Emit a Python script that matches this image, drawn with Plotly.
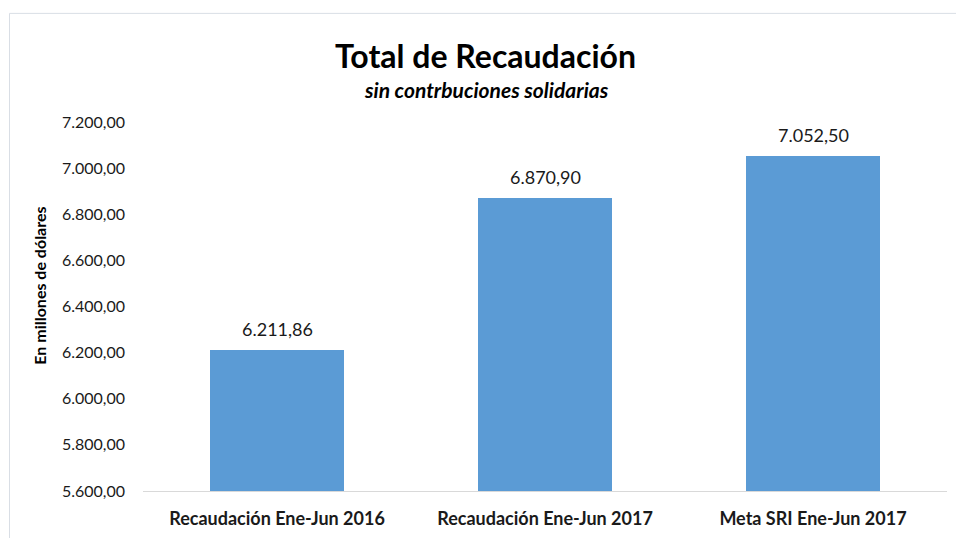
import plotly.graph_objects as go

categories = ["Recaudación Ene-Jun 2016", "Recaudación Ene-Jun 2017", "Meta SRI Ene-Jun 2017"]
values = [6211.86, 6870.90, 7052.50]
y_ticks = [5600, 5800, 6000, 6200, 6400, 6600, 6800, 7000, 7200]

W, H = 956, 538
L, R, T, B = 143, 9, 122, 44
pw, ph = W - L - R, H - T - B

def px_x(x):
    return (x - L) / pw

def px_y(y):
    return (H - B - y) / ph

def fmt(v):
    s = f"{v:,.2f}"
    return s.replace(",", "X").replace(".", ",").replace("X", ".")

fig = go.Figure()
fig.add_trace(go.Bar(
    x=categories, y=values,
    marker=dict(color="#5B9BD5", line=dict(width=0)),
    width=0.5,
))

label_annotations = [
    dict(x=c, y=v, xref="x", yref="y", text=fmt(v), showarrow=False,
         xanchor="center", yanchor="middle", yshift=21,
         font=dict(family="Lato", size=18, color="#1a1a1a"))
    for c, v in zip(categories, values)
]

fig.update_layout(
    width=W, height=H,
    margin=dict(l=L, r=R, t=T, b=B),
    paper_bgcolor="white", plot_bgcolor="white",
    separators=",.",
    showlegend=False,
    xaxis=dict(
        showline=True, linecolor="#D9D9D9", linewidth=1,
        ticks="", tickfont=dict(family="Lato", size=18, color="#1a1a1a", weight="bold"),
        showgrid=False, ticklabelstandoff=11,
    ),
    yaxis=dict(
        range=[5600, 7200], tickvals=y_ticks, tickformat=",.2f",
        showline=False, showgrid=False, zeroline=False, ticks="",
        tickfont=dict(family="Lato", size=16, color="#1a1a1a"),
        ticklabelstandoff=17,
    ),
    shapes=[dict(
        type="rect", xref="paper", yref="paper",
        x0=px_x(9.5), x1=px_x(W + 5), y0=px_y(H + 5), y1=px_y(12.5),
        line=dict(color="#D9DEE5", width=1), fillcolor="rgba(0,0,0,0)", layer="below",
    )],
    annotations=[
        dict(text="<b>Total de Recaudación</b>", xref="paper", yref="paper",
             x=px_x(485), y=px_y(55), showarrow=False, xanchor="center", yanchor="middle",
             font=dict(family="Lato", size=32, color="#000000")),
        dict(text="<b><i>sin contrbuciones solidarias</i></b>", xref="paper", yref="paper",
             x=px_x(486), y=px_y(89), showarrow=False, xanchor="center", yanchor="middle",
             font=dict(family="Lato", size=21, color="#000000")),
        dict(text="<b>En millones de dólares</b>", xref="paper", yref="paper",
             x=px_x(40), y=px_y(287), showarrow=False, xanchor="center", yanchor="middle",
             textangle=-90, font=dict(family="Lato", size=16, color="#000000")),
    ] + label_annotations,
)

fig.write_html("out.html", config={"displayModeBar": False},
               post_script="document.body.style.margin='0';")
